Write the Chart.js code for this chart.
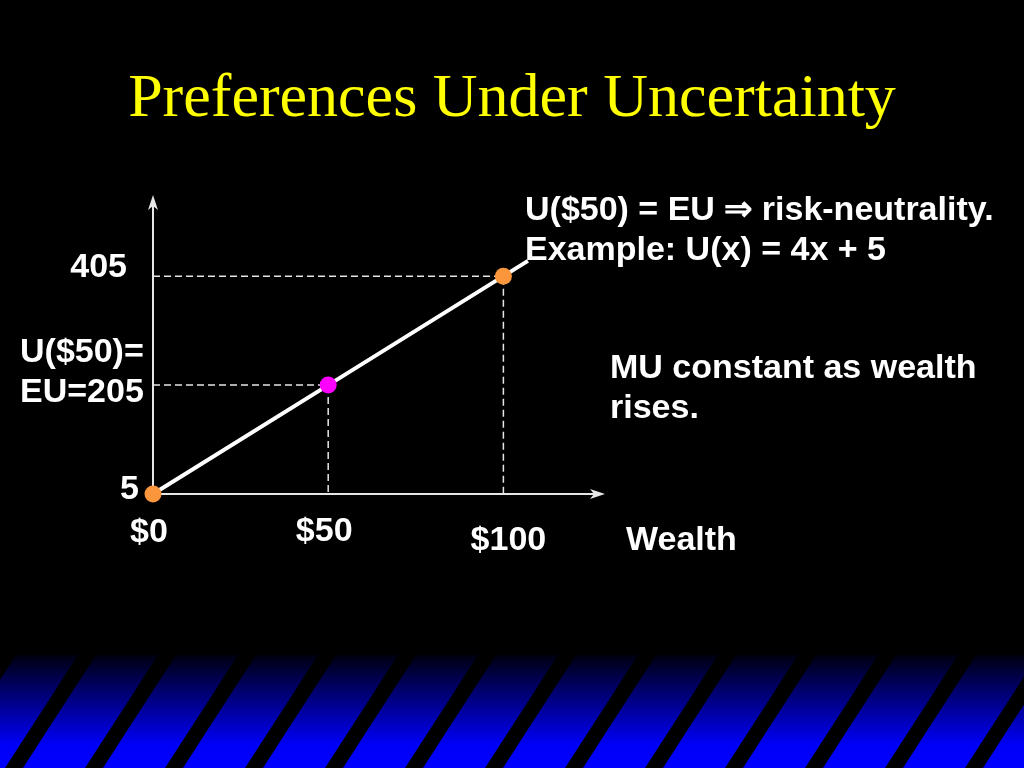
<!DOCTYPE html>
<html>
<head>
<meta charset="utf-8">
<title>Preferences Under Uncertainty</title>
<script src="https://cdn.jsdelivr.net/npm/chart.js@4.4.1/dist/chart.umd.min.js"></script>
<style>
  html, body { margin: 0; padding: 0; background: #000; overflow: hidden; }
  #wrap { position: relative; width: 1024px; height: 768px; }
  #chart { position: absolute; left: 0; top: 0; }
  #title {
    position: absolute; left: 0; top: 60px; width: 1024px; text-align: center;
    color: #ffff00; font: 62px "Liberation Serif", "Times New Roman", serif; white-space: nowrap;
  }
  .note {
    position: absolute; color: #fff; white-space: nowrap;
    font: bold 34px "Liberation Sans", Arial, sans-serif; line-height: 40px;
  }
</style>
</head>
<body>
<div id="wrap">
  <canvas id="chart" width="1024" height="768"></canvas>
  <div id="title">Preferences Under Uncertainty</div>
  <div class="note" style="left:525px; top:188px;">U($50) = EU &rArr; risk-neutrality.<br>Example: U(x) = 4x + 5</div>
  <div class="note" style="left:610px; top:346px;">MU constant as wealth<br>rises.</div>
</div>
<script>
  // ────────── Data ──────────
  const wealth = [0, 50, 100, 107];          // $ wealth along the utility line
  const utility = [5, 205, 405, 433];        // U(x)
  const xTickValues = [0, 50, 100];
  const xTickLabels = ['$0', '$50', '$100'];
  const yTickValues = [405, 205, 5];
  const yTickLabels = [['405'], ['U($50)=', 'EU=205'], ['5']];
  const xAxisTitle = 'Wealth';

  const pt = i => ({ x: wealth[i], y: utility[i] });

  // ────────── Plugins ──────────
  const bandPlugin = {
    id: 'band',
    beforeDraw(chart) {
      const { ctx, width, height } = chart;
      const top = 655;
      ctx.save();
      ctx.fillStyle = '#000';
      ctx.fillRect(0, 0, width, height);
      const g = ctx.createLinearGradient(0, top, 0, height);
      g.addColorStop(0, '#000010');
      g.addColorStop(0.8, '#0000f8');
      g.addColorStop(1, '#0000ff');
      ctx.fillStyle = g;
      ctx.fillRect(0, top, width, height - top);
      // diagonal black stripes
      ctx.fillStyle = '#000';
      const slant = 73 * (height - top) / 113;
      for (let x = -2; x < width + 100; x += 80) {
        ctx.beginPath();
        ctx.moveTo(x, top);
        ctx.lineTo(x + 18, top);
        ctx.lineTo(x + 18 - slant, height);
        ctx.lineTo(x - slant, height);
        ctx.closePath();
        ctx.fill();
      }
      ctx.restore();
    }
  };

  const axesPlugin = {
    id: 'axes',
    beforeDatasetsDraw(chart) {
      const { ctx, chartArea: a } = chart;
      ctx.save();
      ctx.strokeStyle = '#e6e6e6';
      ctx.fillStyle = '#e6e6e6';
      ctx.lineWidth = 2;
      ctx.beginPath();
      ctx.moveTo(a.left, a.bottom); ctx.lineTo(a.left, a.top + 6);
      ctx.moveTo(a.left, a.bottom); ctx.lineTo(a.right - 6, a.bottom);
      ctx.stroke();
      // arrow heads
      ctx.beginPath();
      ctx.moveTo(a.left, a.top);
      ctx.lineTo(a.left + 5, a.top + 15);
      ctx.lineTo(a.left, a.top + 11);
      ctx.lineTo(a.left - 5, a.top + 15);
      ctx.closePath();
      ctx.fill();
      ctx.beginPath();
      ctx.moveTo(a.right, a.bottom);
      ctx.lineTo(a.right - 15, a.bottom - 5);
      ctx.lineTo(a.right - 11, a.bottom);
      ctx.lineTo(a.right - 15, a.bottom + 5);
      ctx.closePath();
      ctx.fill();
      ctx.restore();
    }
  };

  const labelPlugin = {
    id: 'labels',
    afterDraw(chart) {
      const { ctx, scales: { x, y } } = chart;
      ctx.save();
      ctx.fillStyle = '#fff';
      ctx.font = 'bold 34px "Liberation Sans", Arial, sans-serif';
      // x ticks (the $100 label sits a little lower)
      const xDrop = [48, 47, 56];
      ctx.textAlign = 'center';
      xTickValues.forEach((v, i) => {
        ctx.fillText(xTickLabels[i], x.getPixelForValue(v) - 4 + (i === 2 ? 9 : 0) , y.getPixelForValue(5) + xDrop[i]);
      });
      ctx.textAlign = 'left';
      ctx.fillText(xAxisTitle, 626, y.getPixelForValue(5) + 56);
      // y ticks
      const left = x.getPixelForValue(0);
      yTickValues.forEach((v, i) => {
        const py = y.getPixelForValue(v);
        const lines = yTickLabels[i];
        if (lines.length > 1) {
          ctx.textAlign = 'left';
          lines.forEach((s, k) => ctx.fillText(s, 20, py - 23 + k * 40));
        } else {
          ctx.textAlign = 'right';
          ctx.fillText(lines[0], left - (v === 5 ? 14 : 26), py + (v === 5 ? 5 : 1));
        }
      });
      ctx.restore();
    }
  };

  // ────────── Chart ──────────
  const ctx = document.getElementById('chart').getContext('2d');
  new Chart(ctx, {
    type: 'scatter',
    data: {
      datasets: [
        {
          label: 'ends', data: [pt(0), pt(2)], order: 0, clip: false,
          pointRadius: 8.5, pointBackgroundColor: '#fb963c', pointBorderWidth: 0, showLine: false
        },
        {
          label: 'mid', data: [pt(1)], order: 0, clip: false,
          pointRadius: 8.5, pointBackgroundColor: '#ff00ff', pointBorderWidth: 0, showLine: false
        },
        {
          label: 'U(x)', data: wealth.map((w, i) => pt(i)), order: 1, clip: false,
          showLine: true, borderColor: '#fff', borderWidth: 4, pointRadius: 0
        },
        {
          label: 'guide405', data: [{ x: 0, y: utility[2] }, pt(2), { x: wealth[2], y: utility[0] }],
          order: 2, showLine: true, borderColor: '#e6e6e6', borderWidth: 1.5, borderDash: [7, 4], pointRadius: 0
        },
        {
          label: 'guide205', data: [{ x: 0, y: utility[1] }, pt(1), { x: wealth[1], y: utility[0] }],
          order: 2, showLine: true, borderColor: '#e6e6e6', borderWidth: 1.5, borderDash: [7, 4], pointRadius: 0
        }
      ]
    },
    options: {
      responsive: false,
      devicePixelRatio: 1,
      animation: false,
      events: [],
      layout: { padding: { left: 153, top: 195, right: 419, bottom: 274 } },
      scales: {
        x: { type: 'linear', min: 0, max: 129, display: false },
        y: { type: 'linear', min: 5, max: 554, display: false }
      },
      plugins: { legend: { display: false }, tooltip: { enabled: false }, title: { display: false } }
    },
    plugins: [bandPlugin, axesPlugin, labelPlugin]
  });
</script>
</body>
</html>
